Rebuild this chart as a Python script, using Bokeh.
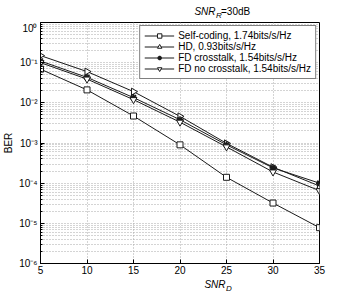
import numpy as np
from bokeh.plotting import figure
from bokeh.layouts import column
from bokeh.models import FixedTicker, Label, Legend, LegendItem, Range1d
from bokeh.embed import file_html
from bokeh.resources import INLINE

# ---- data -------------------------------------------------------------
snr_d = [5, 10, 15, 20, 25, 30, 35]
ber_self_coding = [0.069, 0.021, 0.0047, 9.0e-4, 1.4e-4, 3.2e-5, 7.8e-6]
ber_hd = [0.15, 0.06, 0.019, 0.0046, 9.8e-4, 2.5e-4, 8.5e-5]
ber_fd_crosstalk = [0.11, 0.043, 0.0135, 0.0038, 9.0e-4, 2.4e-4, 1.0e-4]
ber_fd_no_crosstalk = [0.10, 0.039, 0.012, 0.0033, 8.0e-4, 1.9e-4, 6.5e-5]

series_labels = ["Self-coding, 1.74bits/s/Hz", "HD, 0.93bits/s/Hz",
                 "FD crosstalk, 1.54bits/s/Hz", "FD no crosstalk, 1.54bits/s/Hz"]

x_ticks = [5, 10, 15, 20, 25, 30, 35]
y_ticks = [1e-6, 1e-5, 1e-4, 1e-3, 1e-2, 1e-1, 1e0]
y_tick_labels = ["10\u207b\u2076", "10\u207b\u2075", "10\u207b\u2074", "10\u207b\u00b3",
                 "10\u207b\u00b2", "10\u207b\u00b9", "10\u2070"]

FONT = "Liberation Sans"
LINE = "#1a1a1a"
GRID = "#a8a8a8"
W = 343


def text_strip(height):
    s = figure(width=W, height=height, x_range=Range1d(0, 1), y_range=Range1d(0, 1),
               output_backend="svg", toolbar_location=None, min_border=0,
               x_axis_location=None, y_axis_location=None)
    s.outline_line_color = None
    s.grid.visible = False
    return s


# ---- title strip -------------------------------------------------------
top = text_strip(22)
top.add_layout(Label(x=175, y=10.8, x_units="screen", y_units="screen", text="SNR",
                     text_align="right", text_baseline="alphabetic", text_font=FONT,
                     text_font_size="10px", text_font_style="italic", text_color="black"))
top.add_layout(Label(x=175.5, y=7.3, x_units="screen", y_units="screen", text="R",
                     text_align="left", text_baseline="alphabetic", text_font=FONT,
                     text_font_size="8px", text_font_style="italic", text_color="black"))
top.add_layout(Label(x=180.5, y=10.8, x_units="screen", y_units="screen", text="=30dB",
                     text_align="left", text_baseline="alphabetic", text_font=FONT,
                     text_font_size="10px", text_color="black"))

# ---- main plot ---------------------------------------------------------
p = figure(width=W, height=254, x_range=Range1d(5, 35), y_range=Range1d(1e-6, 1),
           y_axis_type="log", output_backend="svg", toolbar_location=None,
           min_border_left=39, min_border_right=24, min_border_top=0,
           min_border_bottom=13)
p.outline_line_color = "black"
p.outline_line_width = 1

xt = FixedTicker(ticks=x_ticks)
minor_y = [m * 10.0 ** e for e in range(-6, 0) for m in range(2, 10)]
yt = FixedTicker(ticks=y_ticks, minor_ticks=minor_y)
p.xaxis.ticker = xt
p.yaxis.ticker = yt
p.xgrid.ticker = xt
p.ygrid.ticker = yt
p.yaxis.major_label_overrides = {t: l for t, l in zip(y_ticks, y_tick_labels)}

for ax in (p.xaxis[0], p.yaxis[0]):
    ax.major_tick_in = 4
    ax.major_tick_out = 0
    ax.minor_tick_in = 2
    ax.minor_tick_out = 0
    ax.axis_line_color = "black"
    ax.major_tick_line_color = "black"
    ax.minor_tick_line_color = "black"
    ax.major_label_text_font = FONT
    ax.major_label_text_font_size = "10px"
    ax.major_label_text_color = "black"
p.xaxis.major_label_standoff = 2
p.yaxis.major_label_standoff = 3
p.yaxis.axis_label = "BER"
p.yaxis.axis_label_text_font = FONT
p.yaxis.axis_label_text_font_size = "10px"
p.yaxis.axis_label_text_font_style = "normal"
p.yaxis.axis_label_text_color = "black"
p.yaxis.axis_label_standoff = 2

for g in (p.xgrid[0], p.ygrid[0]):
    g.grid_line_color = GRID
    g.grid_line_dash = "1 2"
    g.grid_line_width = 1
p.ygrid.minor_grid_line_color = GRID
p.ygrid.minor_grid_line_dash = "1 2"
p.ygrid.minor_grid_line_width = 1

specs = [
    (ber_self_coding, dict(marker="square", size=6, fill_color="white")),
    (ber_hd, dict(marker="triangle", size=7, fill_color="white", angle=-np.pi / 2)),
    (ber_fd_crosstalk, dict(marker="asterisk", size=7, fill_color=LINE, line_width=1.6)),
    (ber_fd_no_crosstalk, dict(marker="inverted_triangle", size=7, fill_color="white")),
]
items = []
for (ys, mk), lab in zip(specs, series_labels):
    lr = p.line(snr_d, ys, line_color=LINE, line_width=1)
    lw = mk.pop("line_width", 1)
    sr = p.scatter(snr_d, ys, line_color=LINE, line_width=lw, **mk)
    items.append(LegendItem(label=lab, renderers=[lr, sr]))

legend = Legend(items=items, location="top_right", margin=3, padding=4,
                spacing=0, label_height=10, glyph_height=11, glyph_width=30,
                label_standoff=4, label_text_font=FONT, label_text_font_size="10px",
                label_text_color="black", border_line_color="black",
                border_line_width=1, background_fill_alpha=1)
p.add_layout(legend)

# ---- x-label strip -----------------------------------------------------
bottom = text_strip(19)
bottom.add_layout(Label(x=185, y=11.5, x_units="screen", y_units="screen", text="SNR",
                        text_align="right", text_baseline="alphabetic", text_font=FONT,
                        text_font_size="10px", text_font_style="italic",
                        text_color="black"))
bottom.add_layout(Label(x=185.5, y=7, x_units="screen", y_units="screen", text="D",
                        text_align="left", text_baseline="alphabetic", text_font=FONT,
                        text_font_size="8px", text_font_style="italic",
                        text_color="black"))

layout = column(top, p, bottom, spacing=0)
open("out.html", "w").write(file_html(layout, INLINE))
